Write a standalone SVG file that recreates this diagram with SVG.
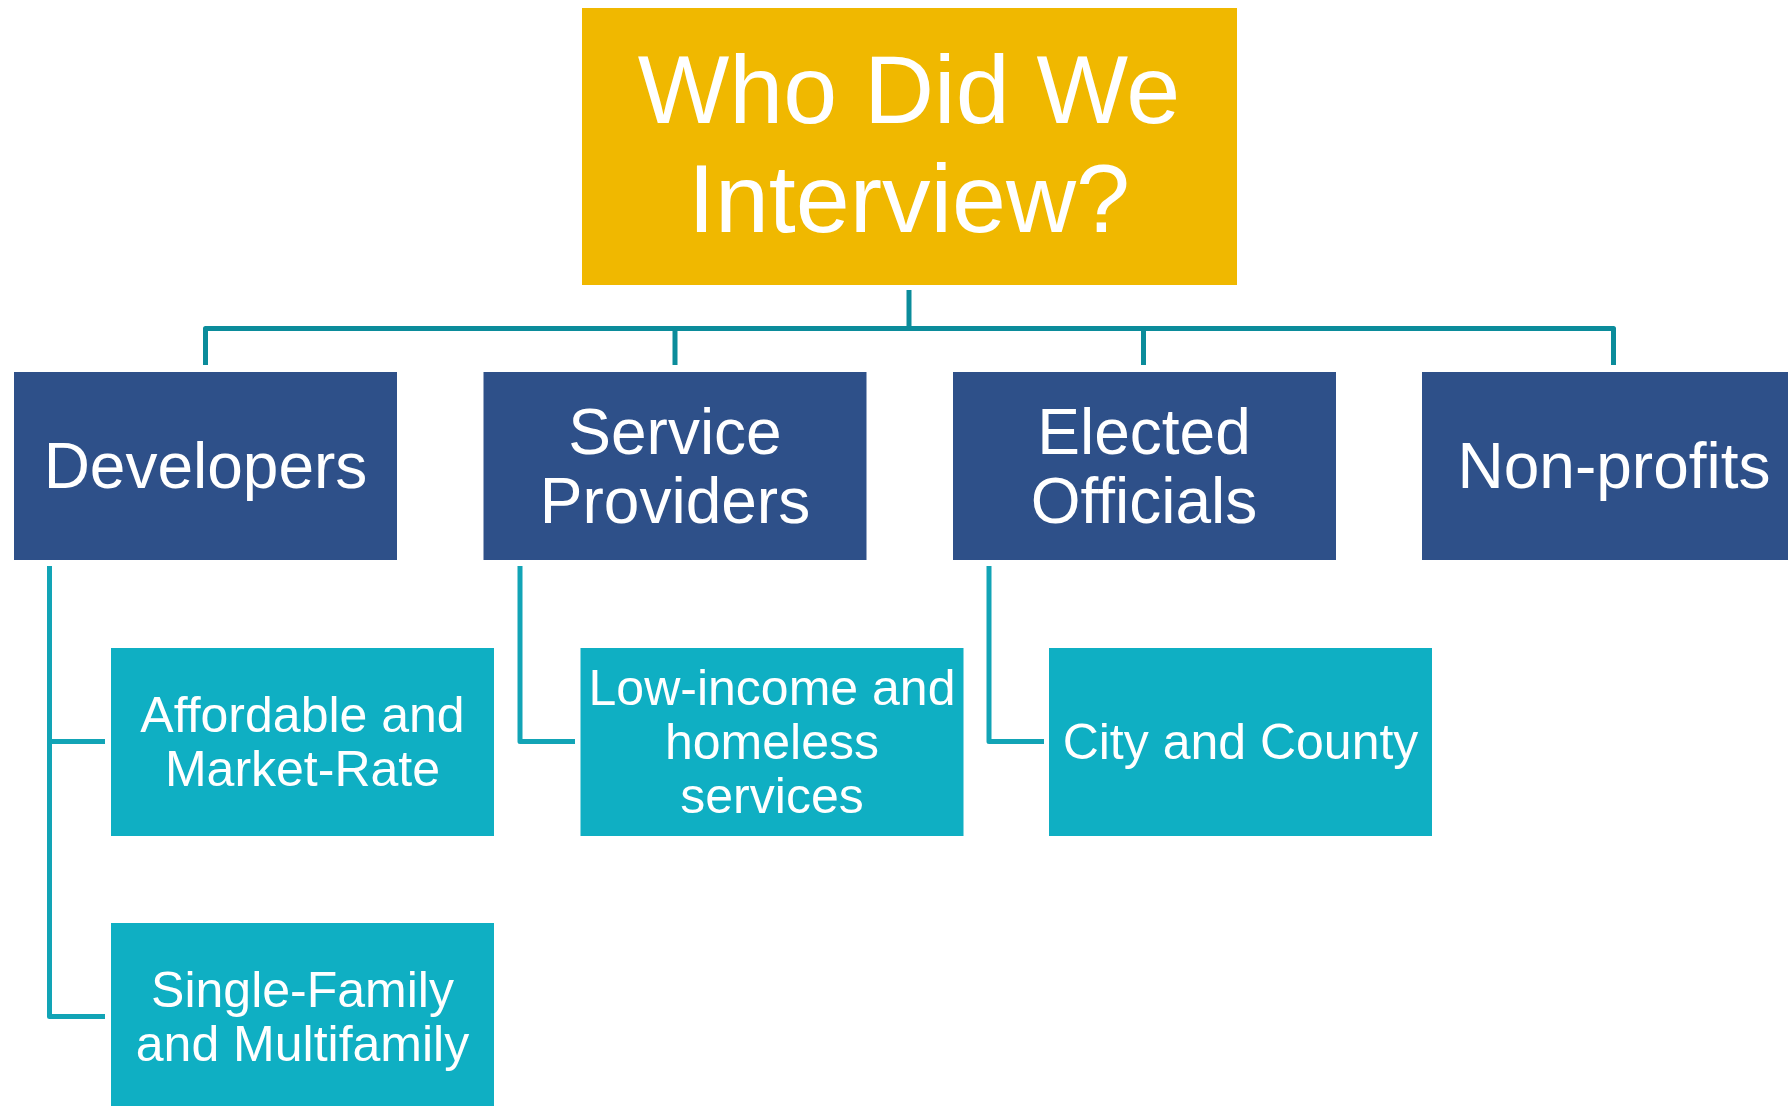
<svg xmlns="http://www.w3.org/2000/svg" width="1788" height="1106" viewBox="0 0 1788 1106">
<style>
  .top { fill: #F0B800; }
  .l2 { fill: #2E5089; }
  .l3 { fill: #0FAFC3; }
  text { font-family: "Liberation Sans", Arial, sans-serif; fill: #FFFFFF; text-anchor: middle; }
  .t1 { font-size: 97px; }
  .t2 { font-size: 64px; }
  .t3 { font-size: 50px; }
  .c1 { fill: none; stroke: #0B8C9B; stroke-width: 5; stroke-linejoin: round; }
  .c2 { fill: none; stroke: #12A4B6; stroke-width: 5; stroke-linejoin: round; }
</style>
<rect width="1788" height="1106" fill="#FFFFFF"/>
<g id="connectors">
  <path class="c1" d="M909 290 V328.5"/>
  <path class="c1" d="M205.5 365 V328.5 H1613.5 V365"/>
  <path class="c1" d="M675 328.5 V365"/>
  <path class="c1" d="M1143.5 328.5 V365"/>
  <path class="c2" d="M49.5 566 V1016.5 H105"/>
  <path class="c2" d="M49.5 741.5 H105"/>
  <path class="c2" d="M520 566 V741.5 H575"/>
  <path class="c2" d="M989 566 V741.5 H1044"/>
</g>
<g id="node-root">
  <rect class="top" x="582" y="8" width="655" height="277"/>
  <text class="t1" x="909" y="123">Who Did We</text>
  <text class="t1" x="909" y="232">Interview?</text>
</g>
<g id="node-developers">
  <rect class="l2" x="14" y="372" width="383" height="188"/>
  <text class="t2" x="205.5" y="488">Developers</text>
</g>
<g id="node-service-providers">
  <rect class="l2" x="483.5" y="372" width="383" height="188"/>
  <text class="t2" x="675" y="454">Service</text>
  <text class="t2" x="675" y="523">Providers</text>
</g>
<g id="node-elected-officials">
  <rect class="l2" x="953" y="372" width="383" height="188"/>
  <text class="t2" x="1144" y="454">Elected</text>
  <text class="t2" x="1144" y="523">Officials</text>
</g>
<g id="node-non-profits">
  <rect class="l2" x="1422" y="372" width="383" height="188"/>
  <text class="t2" x="1614" y="488">Non-profits</text>
</g>
<g id="node-affordable">
  <rect class="l3" x="111" y="648" width="383" height="188"/>
  <text class="t3" x="302.5" y="732">Affordable and</text>
  <text class="t3" x="302.5" y="786">Market-Rate</text>
</g>
<g id="node-single-family">
  <rect class="l3" x="111" y="923" width="383" height="188"/>
  <text class="t3" x="302.5" y="1007">Single-Family</text>
  <text class="t3" x="302.5" y="1061">and Multifamily</text>
</g>
<g id="node-low-income">
  <rect class="l3" x="580.5" y="648" width="383" height="188"/>
  <text class="t3" x="772" y="705">Low-income and</text>
  <text class="t3" x="772" y="759">homeless</text>
  <text class="t3" x="772" y="813">services</text>
</g>
<g id="node-city-county">
  <rect class="l3" x="1049" y="648" width="383" height="188"/>
  <text class="t3" x="1240.5" y="759">City and County</text>
</g>
</svg>
